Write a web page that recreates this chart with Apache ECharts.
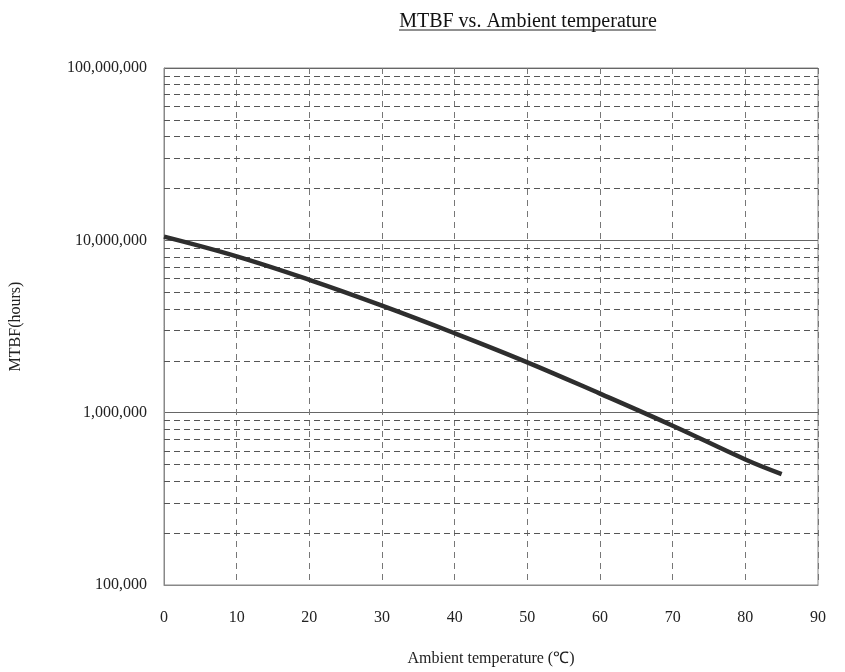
<!DOCTYPE html>
<html>
<head>
<meta charset="utf-8">
<script src="https://cdn.jsdelivr.net/npm/echarts@6/dist/echarts.min.js"></script>
<style>html,body{margin:0;padding:0;background:#fff;}#c{width:845px;height:672px;}</style>
</head>
<body>
<div id="c"></div>
<script>
// ---- data ----
const temperatures = [0, 10, 20, 30, 40, 50, 60, 70, 80, 85];
const mtbfHours = [10500000, 8070000, 5900000, 4180000, 2890000, 1960000, 1290000, 840000, 535000, 440000];
const xTicks = [0, 10, 20, 30, 40, 50, 60, 70, 80, 90];
const yDecades = [100000, 1000000, 10000000, 100000000];
const yMinorLines = [200000, 300000, 400000, 500000, 600000, 700000, 800000, 900000,
  2000000, 3000000, 4000000, 5000000, 6000000, 7000000, 8000000, 9000000,
  20000000, 30000000, 40000000, 50000000, 60000000, 70000000, 80000000, 90000000];
const titleText = 'MTBF vs. Ambient temperature';
const xName = 'Ambient temperature (\u2103)';
const yName = 'MTBF(hours)';

const FONT = '"Liberation Serif", "Times New Roman", serif';
const chart = echarts.init(document.getElementById('c'));
const option = {
  backgroundColor: '#fff',
  animation: false,
  title: {
    text: titleText,
    left: 523, textAlign: 'center', top: 7,
    textStyle: { fontFamily: FONT, fontSize: 20, fontWeight: 'normal', color: '#111' }
  },
  graphic: [{
    type: 'line', shape: { x1: 399, y1: 30, x2: 656, y2: 30 },
    style: { stroke: '#222', lineWidth: 1 }
  }],
  grid: { left: 162, right: 27, top: 68, bottom: 84, show: true, borderColor: '#888', borderWidth: 1 },
  xAxis: {
    type: 'value', min: xTicks[0], max: xTicks[xTicks.length - 1], interval: 10,
    name: xName, nameLocation: 'middle', nameGap: 66,
    nameTextStyle: { fontFamily: FONT, fontSize: 16, color: '#222' },
    axisLine: { show: true, lineStyle: { color: '#888' } },
    axisTick: { show: false },
    axisLabel: { fontFamily: FONT, fontSize: 16, color: '#222', margin: 25 },
    splitLine: { show: true, lineStyle: { color: '#777', type: [6, 5], width: 1 } }
  },
  yAxis: {
    type: 'log', logBase: 10, min: yDecades[0], max: yDecades[yDecades.length - 1],
    name: yName, nameLocation: 'middle', nameGap: 140, nameRotate: 90,
    nameTextStyle: { fontFamily: FONT, fontSize: 16, color: '#222' },
    axisLine: { show: true, lineStyle: { color: '#888' } },
    axisTick: { show: false },
    axisLabel: {
      fontFamily: FONT, fontSize: 16, color: '#222', margin: 17,
      formatter: v => Math.round(v).toLocaleString('en-US')
    },
    splitLine: { show: true, lineStyle: { color: '#666', width: 1 } }
  },
  series: [{
    type: 'line',
    data: temperatures.map((t, i) => [t, mtbfHours[i]]),
    smooth: 0.4,
    symbol: 'none',
    lineStyle: { color: '#2e2e2e', width: 4.5 },
    z: 5,
    markLine: {
      silent: true, symbol: 'none', label: { show: false },
      lineStyle: { color: '#555', type: [6, 4], width: 1 },
      data: yMinorLines.map(v => ({ yAxis: v }))
    }
  }]
};
chart.setOption(option);
</script>
</body>
</html>
